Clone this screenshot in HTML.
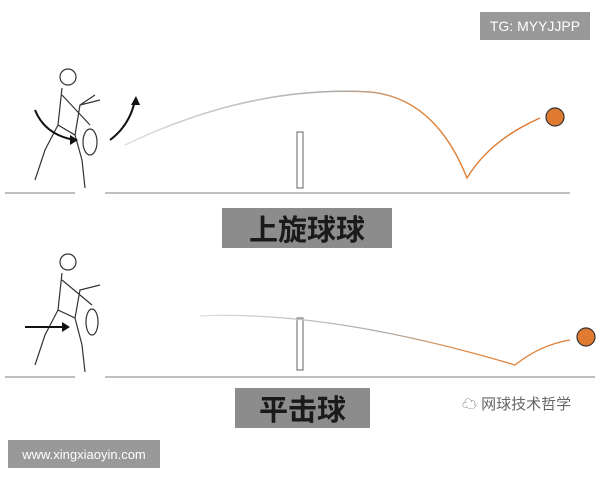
<!DOCTYPE html>
<html><head><meta charset="utf-8"><style>
body{margin:0;background:#fff;width:600px;height:480px;overflow:hidden;position:relative;font-family:"Liberation Sans","Noto Sans CJK SC",sans-serif}
.box{position:absolute;background:#8c8c8c;color:#1a1a1a;font-weight:bold;display:flex;align-items:center;justify-content:center}
</style></head><body>
<svg width="600" height="480" style="position:absolute;left:0;top:0">
<defs><linearGradient id="g1" x1="0" x2="1"><stop offset="0" stop-color="#ddd"/><stop offset="0.5" stop-color="#aaa"/><stop offset="0.7" stop-color="#e08a45"/><stop offset="1" stop-color="#e07a30"/></linearGradient></defs>
<g stroke="#aaa" stroke-width="1.5">
<line x1="5" y1="193" x2="75" y2="193"/><line x1="105" y1="193" x2="570" y2="193"/>
<line x1="5" y1="377" x2="75" y2="377"/><line x1="105" y1="377" x2="595" y2="377"/>
</g>
<rect x="297" y="132" width="6" height="56" fill="#fff" stroke="#666" stroke-width="1"/>
<rect x="297" y="318" width="6" height="52" fill="#fff" stroke="#666" stroke-width="1"/>
<path d="M125 145 Q250 85 370 92 Q435 98 467 178 Q490 140 540 118" fill="none" stroke="url(#g1)" stroke-width="1.5"/>
<circle cx="555" cy="117" r="9" fill="#e07a30" stroke="#333" stroke-width="1.2"/>
<path d="M200 316 Q330 310 515 365 Q540 345 570 340" fill="none" stroke="url(#g1)" stroke-width="1.3"/>
<circle cx="586" cy="337" r="9" fill="#e07a30" stroke="#333" stroke-width="1.2"/>
<g fill="none" stroke="#333" stroke-width="1.2">
<circle cx="68" cy="77" r="8"/><path d="M62 88 L58 125 L75 135 L80 105 L100 100 M62 95 L90 125 M80 105 L95 95 M58 125 L45 150 L35 180 M75 135 L82 160 L85 188"/>
<ellipse cx="90" cy="142" rx="7" ry="13"/>
<circle cx="68" cy="262" r="8"/><path d="M62 273 L58 310 L75 318 L80 290 L100 285 M62 280 L92 305 M58 310 L45 335 L35 365 M75 318 L82 345 L85 372"/>
<ellipse cx="92" cy="322" rx="6" ry="13"/>
</g>
<g fill="none" stroke="#111" stroke-width="2">
<path d="M35 110 Q45 135 75 140"/><path d="M110 140 Q130 125 135 100"/><path d="M25 327 L65 327"/>
</g>
<g fill="#111"><path d="M78 140 L70 135 L70 145Z"/><path d="M136 96 L131 105 L140 105Z"/><path d="M70 327 L62 322 L62 332Z"/></g>
</svg>
<div class="box" style="left:222px;top:208px;width:170px;height:40px;font-size:29px">上旋球球</div>
<div class="box" style="left:235px;top:388px;width:135px;height:40px;font-size:29px">平击球</div>
<div class="box" style="left:480px;top:12px;width:110px;height:28px;background:#999;color:#fff;font-size:14px;font-weight:normal">TG: MYYJJPP</div>
<div class="box" style="left:8px;top:440px;width:152px;height:28px;background:#999;color:#fff;font-size:13px;font-weight:normal">www.xingxiaoyin.com</div>
<div style="position:absolute;left:462px;top:393px;font-size:15px;color:#666">☁ 网球技术哲学</div>
</body></html>
